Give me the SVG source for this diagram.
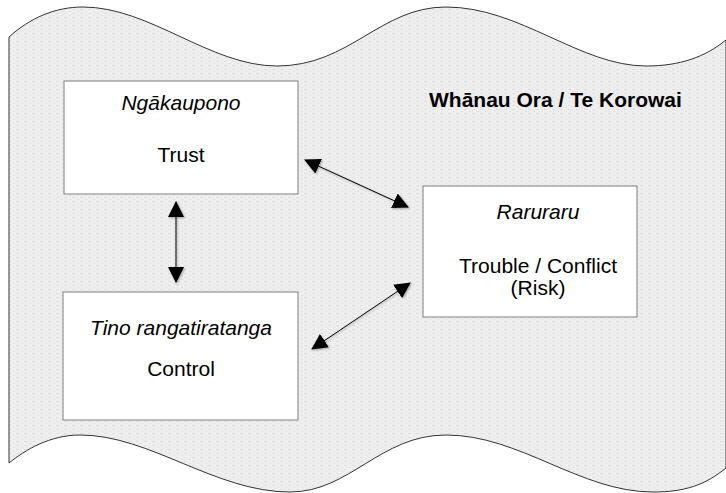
<svg xmlns="http://www.w3.org/2000/svg" width="726" height="493" viewBox="0 0 726 493">
  <defs>
    <pattern id="tex" width="8" height="4" patternUnits="userSpaceOnUse">
      <rect width="8" height="4" fill="#eeeeee"/>
      <rect x="0" y="1" width="3" height="1" fill="#e0e0e0"/>
      <rect x="5" y="3" width="2" height="1" fill="#e3e3e3"/>
    </pattern>
    <marker id="ah" viewBox="0 0 16 16" refX="15" refY="8" markerWidth="16" markerHeight="16" markerUnits="userSpaceOnUse" orient="auto-start-reverse">
      <path d="M0,0 L16,8 L0,16 Z" fill="#000"/>
    </marker>
    <filter id="sh" x="-20%" y="-20%" width="140%" height="140%">
      <feDropShadow dx="1" dy="1" stdDeviation="1" flood-color="#000" flood-opacity="0.35"/>
    </filter>
  </defs>
  <style>
    .box { fill: #ffffff; stroke: #7f7f7f; stroke-width: 1; }
    .t { font-family: "Liberation Sans", Arial, sans-serif; font-size: 21px; fill: #000; text-anchor: middle; }
    .it { font-style: italic; }
    .title { font-family: "Liberation Sans", Arial, sans-serif; font-size: 21px; font-weight: bold; fill: #000; }
    .conn { stroke: #000; stroke-width: 1; fill: none; marker-start: url(#ah); marker-end: url(#ah); }
  </style>
  <rect width="726" height="493" fill="#ffffff"/>
  <g id="banner">
    <path d="M9,37 C 30,18 55,7 83,7 C 150,7 210,66 277,66 C 350,66 380,7 446,7 C 520,7 580,66 646,66 C 680,66 705,57 726,40 L726,468 C 705,485 685,492 653,492 C 580,492 520,435 446,435 C 380,435 350,492 290,492 C 215,492 150,435 80,435 C 50,435 25,450 9,463 Z" fill="url(#tex)" stroke="#333" stroke-width="1"/>
  </g>
  <g id="title">
    <text class="title" x="429" y="107">Whānau Ora / Te Korowai</text>
  </g>
  <g id="connectors" filter="url(#sh)">
    <line class="conn" x1="176" y1="202" x2="176" y2="282"/>
    <line class="conn" x1="305" y1="160" x2="408" y2="207"/>
    <line class="conn" x1="410" y1="283" x2="312" y2="349"/>
  </g>
  <g id="node-ngakaupono">
    <rect class="box" x="64" y="81" width="234" height="113"/>
    <text class="t it" x="181" y="110">Ngākaupono</text>
    <text class="t" x="181" y="162">Trust</text>
  </g>
  <g id="node-tino">
    <rect class="box" x="63" y="292" width="235" height="128"/>
    <text class="t it" x="181" y="335">Tino rangatiratanga</text>
    <text class="t" x="181" y="376">Control</text>
  </g>
  <g id="node-raruraru">
    <rect class="box" x="423" y="186" width="214" height="131"/>
    <text class="t it" x="538" y="219">Raruraru</text>
    <text class="t" x="538" y="273">Trouble / Conflict</text>
    <text class="t" x="538" y="295">(Risk)</text>
  </g>
</svg>
